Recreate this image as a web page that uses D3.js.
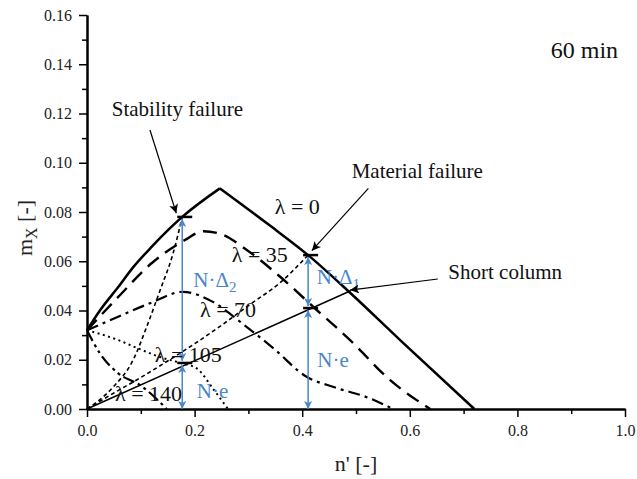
<!DOCTYPE html>
<html>
<head>
<meta charset="utf-8">
<script src="https://cdn.jsdelivr.net/npm/d3@7"></script>
<style>
body { margin: 0; background: #fff; }
svg, svg text { font-family: "Liberation Serif", "Times New Roman", serif; }
</style>
</head>
<body>
<script>
const W = 637, H = 479;
const BLUE = "#4a86c8";

// curves, as [n', m_x]
var lam0Up   = [[0,0.032],[0.024,0.040],[0.058,0.0495],[0.086,0.0576],[0.12,0.0658],[0.15,0.0725],[0.177,0.078],[0.247,0.0896]];
var lam0Down = [[0.247,0.0896],[0.34,0.0745],[0.411,0.0625],[0.49,0.047],[0.582,0.028],[0.72,0]];
var lam35    = [[0,0.032],[0.058,0.0455],[0.12,0.0592],[0.182,0.0686],[0.216,0.0722],[0.247,0.0712],[0.297,0.0646],[0.359,0.0537],[0.427,0.0402],[0.489,0.028],[0.563,0.0118],[0.638,0]];
var lam70    = [[0,0.032],[0.058,0.0375],[0.12,0.0432],[0.178,0.0476],[0.234,0.0435],[0.29,0.0345],[0.35,0.024],[0.405,0.0135],[0.46,0.0088],[0.52,0.0048],[0.569,0]];
var lam105   = [[0,0.032],[0.058,0.028],[0.095,0.0246],[0.133,0.0213],[0.177,0.0185],[0.204,0.0165],[0.235,0.008],[0.262,0]];
var lam140   = [[0,0.032],[0.024,0.0226],[0.058,0.0145],[0.1,0.0095],[0.125,0.005],[0.148,0]];
var secA     = [[0,0],[0.049,0.009],[0.086,0.02],[0.111,0.0334],[0.136,0.0483],[0.16,0.0632],[0.177,0.078]];
var secB     = [[0,0],[0.05,0.0065],[0.1,0.0128],[0.15,0.0195],[0.2,0.0265],[0.25,0.034],[0.3,0.042],[0.36,0.0515],[0.411,0.0625]];
var shortCol = [[0,0],[0.49,0.048]];

// failure points and the N.e / N.Delta split
var failPts = [[0.177,0.078],[0.177,0.0187],[0.411,0.0625],[0.411,0.041]];
var blueArrows = [[0.177,0,0.0187],[0.177,0.0187,0.078],[0.411,0,0.041],[0.411,0.041,0.0625]];

var xTicks = [0,0.2,0.4,0.6,0.8,1.0];
var xMinor = [0.1,0.3,0.5,0.7,0.9];
var yTicks = [0,0.02,0.04,0.06,0.08,0.10,0.12,0.14,0.16];
var yMinor = [0.01,0.03,0.05,0.07,0.09,0.11,0.13,0.15];

var lamLabels = [
  {t:"0",   at:[0.349,0.0792]},
  {t:"35",  at:[0.269,0.0598]},
  {t:"70",  at:[0.21,0.0375]},
  {t:"105", at:[0.126,0.0192]},
  {t:"140", at:[0.052,0.0032]}
];
var blueLabels = [
  {t:"N·Δ", sub:"2", at:[0.1976,0.0495]},
  {t:"N·e", sub:"",  at:[0.204,0.0045]},
  {t:"N·Δ", sub:"1", at:[0.427,0.0508]},
  {t:"N·e", sub:"",  at:[0.428,0.0171]}
];
var notes = [
  {t:"Stability failure", at:[0.046,0.119],  from:[0.117,0.1133], to:[0.166,0.0795]},
  {t:"Material failure",  at:[0.492,0.0938], from:[0.523,0.0896], to:[0.418,0.0643]},
  {t:"Short column",      at:[0.6716,0.0528],from:[0.652,0.0528], to:[0.489,0.0483]}
];

var svg = d3.select("body").append("svg")
    .attr("width", W)
    .attr("height", H);

var x = d3.scaleLinear().domain([0, 1]).range([87, 625]);
var y = d3.scaleLinear().domain([0, 0.16]).range([409, 15]);

var defs = svg.append("defs");
function marker(id, col, size) {
  defs.append("marker")
      .attr("id", id)
      .attr("viewBox", "0 0 10 10")
      .attr("refX", 10).attr("refY", 5)
      .attr("markerUnits", "userSpaceOnUse")
      .attr("markerWidth", size).attr("markerHeight", size)
      .attr("orient", "auto-start-reverse")
    .append("path")
      .attr("d", "M0,0 L10,5 L0,10 L2.5,5 z")
      .attr("fill", col);
}
marker("ab", "#000", 9);
marker("bl", BLUE, 8);

// axes
function styleAxis(g) {
  g.attr("font-family", null);
  g.selectAll("path.domain").attr("stroke-width", 2);
  g.selectAll(".tick line").attr("stroke-width", 1.5);
  g.selectAll("text")
    .attr("font-family", "Liberation Serif")
    .style("font-family", "'Liberation Serif', serif")
    .style("font-size", "16px")
    .attr("fill", "#222");
}
svg.append("g")
    .attr("transform", "translate(0,409)")
    .call(d3.axisBottom(x).tickValues(xMinor).tickSize(5).tickFormat("").tickSizeOuter(0))
    .call(styleAxis);
svg.append("g")
    .attr("transform", "translate(0,409)")
    .call(d3.axisBottom(x).tickValues(xTicks).tickSize(8).tickPadding(8)
            .tickFormat(d3.format(".1f")).tickSizeOuter(0))
    .call(styleAxis);
svg.append("g")
    .attr("transform", "translate(87,0)")
    .call(d3.axisLeft(y).tickValues(yMinor).tickSize(5).tickFormat("").tickSizeOuter(0))
    .call(styleAxis);
svg.append("g")
    .attr("transform", "translate(87,0)")
    .call(d3.axisLeft(y).tickValues(yTicks).tickSize(8).tickPadding(7)
            .tickFormat(d3.format(".2f")).tickSizeOuter(0))
    .call(styleAxis);

svg.append("text")
    .attr("x", x(0.5)).attr("y", 471)
    .attr("text-anchor", "middle")
    .attr("font-size", 22)
    .attr("fill", "#222")
    .text("n' [-]");

var yl = svg.append("text")
    .attr("transform", "translate(32,228) rotate(-90)")
    .attr("text-anchor", "middle")
    .attr("font-size", 22)
    .attr("fill", "#222");
yl.append("tspan").text("m");
yl.append("tspan").attr("dy", 5).attr("font-size", 16).text("X");
yl.append("tspan").attr("dy", -5).text(" [-]");

// curves
var smooth = d3.line().x(d => x(d[0])).y(d => y(d[1])).curve(d3.curveMonotoneX);
var curves = [
  {data: lam0Up,   w: 2.5, dash: null},
  {data: lam0Down, w: 2.5, dash: null},
  {data: lam35,    w: 2.4, dash: "14,8"},
  {data: lam70,    w: 2.2, dash: "12,5,3,5"},
  {data: lam105,   w: 2,   dash: "2,3.5"},
  {data: lam140,   w: 2.2, dash: "12,4,3,4,3,4"},
  {data: secA,     w: 1.6, dash: "4,3"},
  {data: secB,     w: 1.6, dash: "4,3"},
  {data: shortCol, w: 1.5, dash: null}
];
svg.append("g").selectAll("path")
  .data(curves)
  .enter().append("path")
    .attr("d", d => smooth(d.data))
    .attr("fill", "none")
    .attr("stroke", "#000")
    .attr("stroke-width", d => d.w)
    .attr("stroke-linejoin", "round")
    .attr("stroke-dasharray", d => d.dash);

// blue double arrows
svg.append("g").selectAll("line")
  .data(blueArrows)
  .enter().append("line")
    .attr("x1", d => x(d[0])).attr("x2", d => x(d[0]))
    .attr("y1", d => y(d[1]) - (d[1] > 0 ? 2 : 0))
    .attr("y2", d => y(d[2]) + 2)
    .attr("stroke", BLUE)
    .attr("stroke-width", 1.5)
    .attr("marker-start", "url(#bl)")
    .attr("marker-end", "url(#bl)");

// black marks on the failure points
svg.append("g").selectAll("line")
  .data(failPts)
  .enter().append("line")
    .attr("x1", d => x(d[0]) - 5).attr("x2", d => x(d[0]) + 10)
    .attr("y1", d => y(d[1])).attr("y2", d => y(d[1]))
    .attr("stroke", "#000")
    .attr("stroke-width", 2.5);

// lambda labels
svg.append("g").selectAll("text")
  .data(lamLabels)
  .enter().append("text")
    .attr("x", d => x(d.at[0])).attr("y", d => y(d.at[1]))
    .attr("font-size", 22)
    .attr("fill", "#111")
    .text(d => "λ = " + d.t);

var bl = svg.append("g").selectAll("text")
  .data(blueLabels)
  .enter().append("text")
    .attr("x", d => x(d.at[0])).attr("y", d => y(d.at[1]))
    .attr("font-size", 21)
    .attr("fill", BLUE);
bl.append("tspan").text(d => d.t);
bl.append("tspan").attr("dy", 5).attr("font-size", 15).text(d => d.sub);

// annotations
svg.append("g").selectAll("line")
  .data(notes)
  .enter().append("line")
    .attr("x1", d => x(d.from[0])).attr("y1", d => y(d.from[1]))
    .attr("x2", d => x(d.to[0])).attr("y2", d => y(d.to[1]))
    .attr("stroke", "#000")
    .attr("stroke-width", 1.2)
    .attr("marker-end", "url(#ab)");
svg.append("g").selectAll("text")
  .data(notes)
  .enter().append("text")
    .attr("x", d => x(d.at[0])).attr("y", d => y(d.at[1]))
    .attr("font-size", 21)
    .attr("fill", "#111")
    .text(d => d.t);

svg.append("text")
    .attr("x", x(0.862)).attr("y", y(0.1425))
    .attr("font-size", 24)
    .attr("fill", "#111")
    .text("60 min");
</script>
</body>
</html>
